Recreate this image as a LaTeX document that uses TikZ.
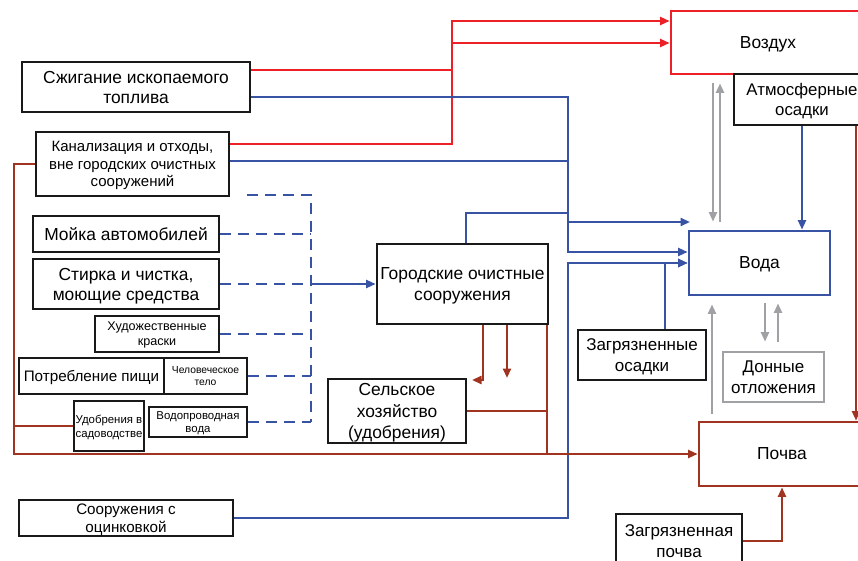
\documentclass[tikz,border=0pt]{standalone}
\usepackage{fontspec}
\setmainfont{Liberation Sans}
\usetikzlibrary{arrows.meta}

\definecolor{airred}{RGB}{236,32,38}
\definecolor{waterblue}{RGB}{57,83,164}
\definecolor{soilbrown}{RGB}{160,52,32}
\definecolor{sedgray}{RGB}{160,161,165}

\begin{document}
\begin{tikzpicture}[x=1pt,y=-1pt,
  box/.style={draw=black!90,line width=2.8pt,fill=white,inner sep=0pt,align=center,
              text depth=0pt,font=\fontsize{17.4}{20}\selectfont},
  flow/.style={line width=2.2pt},
  redln/.style={flow,draw=airred},
  blueln/.style={flow,draw=waterblue},
  brownln/.style={flow,draw=soilbrown},
  grayln/.style={flow,draw=sedgray},
  dashln/.style={flow,draw=waterblue,dash pattern=on 11pt off 7pt},
  tip/.style={-{Triangle[length=9.5pt,width=8pt]}}
]

  \useasboundingbox (0,0) rectangle (858,561);
  \clip (0,0) rectangle (858,561);

  % ---------- receiving media ----------
  \node[box,draw=airred,minimum width=194,minimum height=63] (vozd) at (768,42.5) {Воздух};
  \node[box,draw=waterblue,minimum width=141,minimum height=64] (voda) at (759.5,263) {Вода};
  \node[box,draw=soilbrown,minimum width=166,minimum height=64] (pochva) at (782,454) {Почва};
  \node[box,draw=sedgray,minimum width=101,minimum height=50,
        font=\fontsize{17}{20.5}\selectfont] (donn) at (773.5,377) {Донные\\отложения};
  \node[box,minimum width=136,minimum height=51,
        font=\fontsize{16.8}{19.5}\selectfont] (atm) at (802,99.5) {Атмосферные\\осадки};
  \node[box,minimum width=128,minimum height=50,
        font=\fontsize{17}{20.5}\selectfont] (zagros) at (642,355) {Загрязненные\\осадки};
  \node[box,minimum width=126,minimum height=54,
        font=\fontsize{17}{20.5}\selectfont] (zagpoch) at (679,541) {Загрязненная\\почва};

  % ---------- sources ----------
  \node[box,minimum width=228,minimum height=50] (szh) at (136,87) {Сжигание ископаемого\\топлива};
  \node[box,minimum width=193,minimum height=64,
        font=\fontsize{15}{17.5}\selectfont] (kan) at (132.5,164)
        {Канализация и отходы,\\вне городских очистных\\сооружений};
  \node[box,minimum width=186,minimum height=36] (moyka) at (126,234) {Мойка автомобилей};
  \node[box,minimum width=186,minimum height=50] (stirka) at (126,284) {Стирка и чистка,\\моющие средства};
  \node[box,minimum width=124,minimum height=36,
        font=\fontsize{12.6}{15}\selectfont] (khud) at (157,334) {Художественные\\краски};
  \node[box,minimum width=145,minimum height=36,
        font=\fontsize{15.2}{18}\selectfont] (potr) at (91.5,376) {Потребление пищи};
  \node[box,minimum width=83,minimum height=36,
        font=\fontsize{10.3}{12}\selectfont] (chel) at (205.5,376) {Человеческое\\тело};
  \node[box,minimum width=70,minimum height=50,
        font=\fontsize{11.4}{14}\selectfont] (udobr) at (109,426) {Удобрения в\\садоводстве};
  \node[box,minimum width=98,minimum height=30,
        font=\fontsize{11.4}{13.5}\selectfont] (vodopr) at (198,422) {Водопроводная\\вода};
  \node[box,minimum width=214,minimum height=36,
        font=\fontsize{15.2}{18}\selectfont] (ocink) at (126,518) {Сооружения с\\оцинковкой};
  \node[box,minimum width=171,minimum height=80,
        font=\fontsize{17.4}{21}\selectfont] (gor) at (462.5,284) {Городские очистные\\сооружения};
  \node[box,minimum width=138,minimum height=64,
        font=\fontsize{17.4}{21.5}\selectfont] (selsk) at (397,411) {Сельское\\хозяйство\\(удобрения)};

  % free ends
  \coordinate (dashtop) at (247,195);
  \coordinate (vodaup) at (690,222);
  \coordinate (selskin) at (472,380);
  \coordinate (gordown) at (507,378);

  % ---------- to air ----------
  \draw[redln,tip] (szh.east |- 0,70) -| (452,21) -- (vozd.west |- 0,21);
  \draw[redln,tip] (kan.east |- 0,144) -| (452,43) -- (vozd.west |- 0,43);

  % ---------- to water ----------
  \draw[blueln,tip] (szh.east |- 0,97) -| (568,252) -- (voda.west |- 0,252);
  \draw[blueln] (kan.east |- 0,161) -- (568,161);
  \draw[blueln] (466,0 |- gor.north) |- (568,213);
  \draw[blueln,tip] (568,222) -- (vodaup);
  \draw[blueln,tip] (ocink.east) -| (568,263) -- (voda.west |- 0,263);
  \draw[blueln,tip] (665,0 |- zagros.north) |- (voda.west |- 0,263);
  \draw[blueln,tip] (atm.south) -- (atm.south |- voda.north);

  % household sources into the treatment plant
  \draw[dashln] (dashtop) -- (311,195) -- (311,422);
  \foreach \src in {moyka,stirka,khud,chel,vodopr}
    \draw[dashln] (\src.east) -- (\src.east -| 311,0);
  \draw[blueln,tip] (311,0 |- gor.west) -- (gor.west);

  % ---------- to soil ----------
  \draw[brownln,tip] (kan.west) -| (14,454) -- (pochva.west);
  \draw[brownln] (udobr.west) -- (udobr.west -| 14,0);
  \draw[brownln,tip] (483,0 |- gor.south) |- (selskin);
  \draw[brownln,tip] (507,0 |- gor.south) -- (gordown);
  \draw[brownln] (547,0 |- gor.south) -- (547,454);
  \draw[brownln] (selsk.east) -- (selsk.east -| 547,0);
  \draw[brownln,tip] (856,0 |- atm.south) -- (856,0 |- pochva.north);
  \draw[brownln,tip] (zagpoch.east) -| (pochva.south);

  % ---------- exchange ----------
  \draw[grayln,tip,shorten <=8pt,shorten >=8pt] (713,0 |- vozd.south) -- (713,0 |- voda.north);
  \draw[grayln,tip,shorten <=8pt,shorten >=8pt] (720,0 |- voda.north) -- (720,0 |- vozd.south);
  \draw[grayln,tip,shorten <=7pt,shorten >=9pt] (765,0 |- voda.south) -- (765,0 |- donn.north);
  \draw[grayln,tip,shorten <=9pt,shorten >=7pt] (778,0 |- donn.north) -- (778,0 |- voda.south);
  \draw[grayln,tip,shorten <=7pt,shorten >=8pt] (712,0 |- pochva.north) -- (712,0 |- voda.south);

\end{tikzpicture}
\end{document}
